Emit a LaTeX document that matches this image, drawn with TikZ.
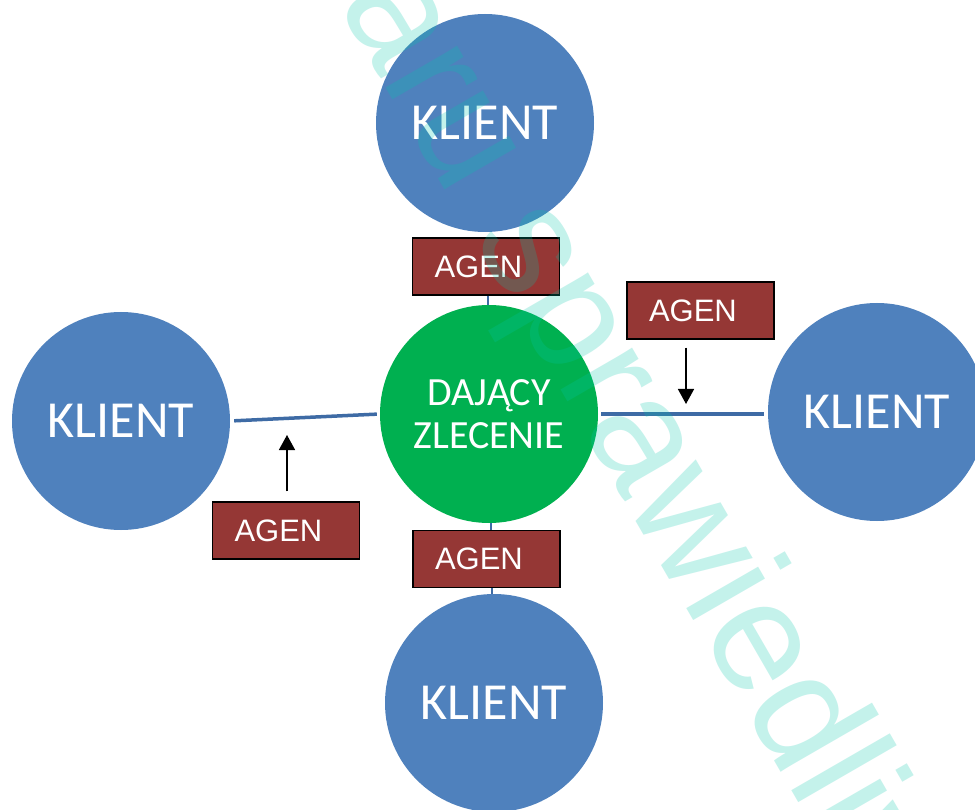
\documentclass[tikz,border=0pt]{standalone}
\usepackage{fontspec}
\newfontfamily\calib{Carlito}
\newfontfamily\arialf{Liberation Sans}
\usetikzlibrary{arrows.meta}
\definecolor{kblue}{RGB}{79,129,189}
\definecolor{kgreen}{RGB}{0,176,80}
\definecolor{abrown}{RGB}{149,55,53}
\definecolor{lblue}{RGB}{62,107,165}
\definecolor{wmcyan}{RGB}{0,199,172}
\tikzset{
  klient/.style={circle, fill=kblue, minimum size=218pt, inner sep=0pt, text=white, font=\calib\fontsize{52}{52}\selectfont},
  zlec/.style={circle, fill=kgreen, minimum size=218pt, inner sep=0pt, text=white, align=center, font=\calib\fontsize{40}{43}\selectfont},
  agen/.style={draw=black, line width=1.3pt, fill=abrown, minimum width=147pt, minimum height=57pt, inner sep=0pt, text=white, font=\arialf\fontsize{31}{31}\selectfont},
  link/.style={draw=lblue, line width=3.5pt},
  vlink/.style={draw=lblue, line width=1.8pt},
  arr/.style={draw=black, line width=1.5pt, -{Triangle[length=15pt,width=16pt]}},
  wmark/.style={text=wmcyan, text opacity=0.23, inner sep=0pt, font=\arialf\fontsize{157}{157}\selectfont}
}
\newcommand{\agtxt}{\makebox[147pt][l]{\hspace{22pt}AGEN}}
\begin{document}
\begin{tikzpicture}[x=1pt,y=-1pt]
\useasboundingbox (0,0) rectangle (975,810);
\clip (0,0) rectangle (975,810);
\fill[white] (0,0) rectangle (975,810);
\node[klient] (kT) at (485,123) {KLIENT};
\node[zlec] (g) at (489,414) {DAJĄCY\\ZLECENIE};
\node[klient] (kL) at (121,421) {KLIENT};
\node[klient] (kR) at (877,412) {KLIENT};
\node[klient] (kB) at (494,703) {KLIENT};
\draw[link, shorten <=4pt, shorten >=3pt] (kL.east) -- (g.west);
\draw[link, shorten <=3pt, shorten >=4pt] (g.east) -- (g.east -| kR.west);
\node[agen] (aT) at (486,266.5) {\agtxt};
\node[agen] (aB) at (486.5,559) {\agtxt};
\node[agen] (aR) at (700.5,310.5) {\agtxt};
\node[agen] (aL) at (286,530.5) {\agtxt};
\draw[vlink] (aT.south -| 488,0) -- (g.north -| 488,0);
\draw[vlink] (g.south -| 491,0) -- (aB.north -| 491,0);
\draw[vlink] (aB.south -| 492,0) -- (kB.north -| 492,0);
\coordinate (tR) at (686,404);
\coordinate (tL) at (287,435);
\draw[arr, shorten <=8pt] (aR.south -| tR) -- (tR);
\draw[arr, shorten <=10pt] (aL.north -| tL) -- (tL);
\node[wmark, rotate=-60, anchor=base west] (wm) at (337,3) {\llap{wymi}aru sprawiedliwości};
\end{tikzpicture}
\end{document}
